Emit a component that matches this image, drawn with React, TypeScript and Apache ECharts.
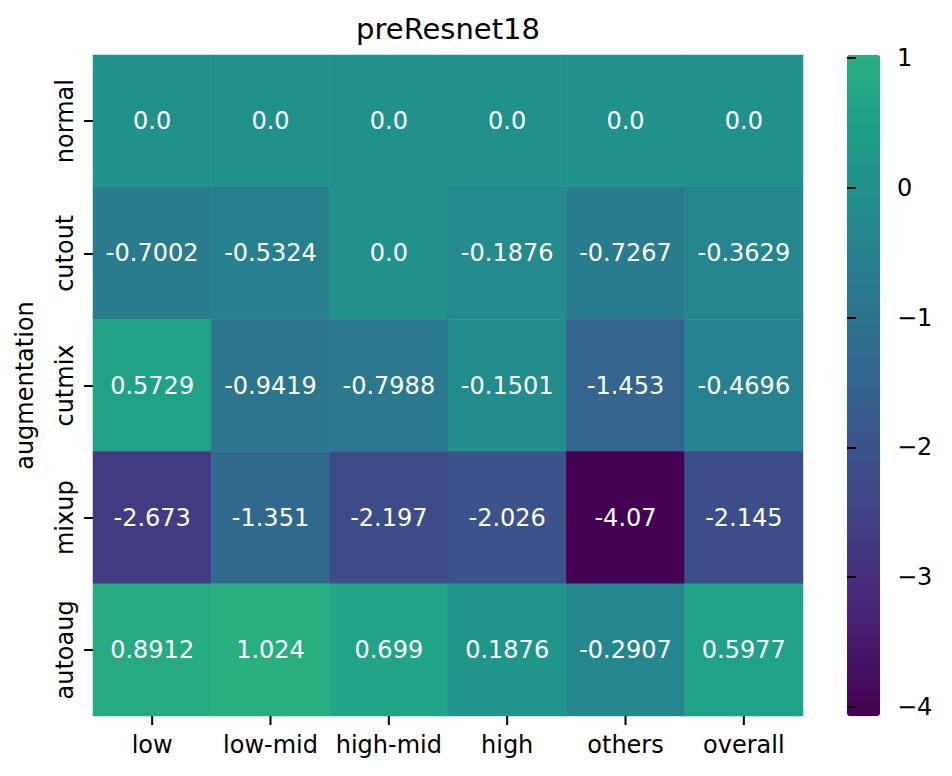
import React, { useEffect, useRef } from "react";
import * as echarts from "echarts";

const chartTitle = "preResnet18";
const yAxisName = "augmentation";
const columns = ["low", "low-mid", "high-mid", "high", "others", "overall"];
const rows = ["normal", "cutout", "cutmix", "mixup", "autoaug"];
const normalVals = [0.0, 0.0, 0.0, 0.0, 0.0, 0.0];
const cutoutVals = [-0.7002, -0.5324, 0.0, -0.1876, -0.7267, -0.3629];
const cutmixVals = [0.5729, -0.9419, -0.7988, -0.1501, -1.453, -0.4696];
const mixupVals = [-2.673, -1.351, -2.197, -2.026, -4.07, -2.145];
const autoaugVals = [0.8912, 1.024, 0.699, 0.1876, -0.2907, 0.5977];
const rowValues = [normalVals, cutoutVals, cutmixVals, mixupVals, autoaugVals];
const colorbarTicks = [-4, -3, -2, -1, 0, 1];
const vmin = -4.07;
const vmax = 1.024;

// viridis reference stops (t, hex)
const viridisStops: [number, string][] = [
  [0.0, "#440154"],
  [0.1, "#482475"],
  [0.111, "#482878"],
  [0.2, "#414487"],
  [0.222, "#3e4a89"],
  [0.25, "#3b528b"],
  [0.3, "#355f8d"],
  [0.333, "#31688e"],
  [0.4, "#2a788e"],
  [0.444, "#26828e"],
  [0.5, "#21918c"],
  [0.556, "#1f9e89"],
  [0.6, "#22a884"],
  [0.667, "#35b779"],
  [0.7, "#44bf70"],
];

function hexToRgb(h: string) {
  return [1, 3, 5].map((i) => parseInt(h.slice(i, i + 2), 16));
}
function viridis(t: number) {
  for (let i = 0; i < viridisStops.length - 1; i++) {
    const [t0, c0] = viridisStops[i];
    const [t1, c1] = viridisStops[i + 1];
    if (t >= t0 && t <= t1) {
      const f = (t - t0) / (t1 - t0);
      const a = hexToRgb(c0);
      const b = hexToRgb(c1);
      const c = a.map((v, k) => Math.round(v + (b[k] - v) * f));
      return `rgb(${c[0]},${c[1]},${c[2]})`;
    }
  }
  return viridisStops[viridisStops.length - 1][1];
}

function fmt(v: number) {
  if (v === 0) return "0.0";
  let s = v.toPrecision(4);
  if (s.indexOf(".") >= 0) s = s.replace(/0+$/, "").replace(/\.$/, ".0");
  return s;
}

const FONT = "DejaVu Sans";

export default function App() {
  const ref = useRef<HTMLDivElement>(null);
  useEffect(() => {
    if (!ref.current) return;
    const chart = echarts.init(ref.current, null, { renderer: "svg" });

    // seaborn center=0 re-centred colormap
    const vrange = Math.max(vmax, -vmin);
    const tMin = (vmin + vrange) / (2 * vrange);
    const tMax = (vmax + vrange) / (2 * vrange);
    const nCol = 48;
    const palette: string[] = [];
    for (let i = 0; i < nCol; i++) palette.push(viridis(tMin + ((tMax - tMin) * i) / (nCol - 1)));

    const data: [number, number, number][] = [];
    rowValues.forEach((vals, r) => vals.forEach((v, c) => data.push([c, r, v])));

    const tickLine = { color: "#000", width: 2 };

    chart.setOption({
      animation: false,
      backgroundColor: "#fff",
      textStyle: { fontFamily: FONT },
      title: {
        text: chartTitle,
        left: 448,
        top: 14,
        textAlign: "center",
        padding: 0,
        textStyle: { fontFamily: FONT, fontSize: 29, fontWeight: "normal", color: "#000" },
      },
      grid: [
        { left: 93, top: 55, width: 710, height: 661 },
        { left: 847, top: 55, width: 33, height: 661 },
      ],
      xAxis: [
        {
          type: "category",
          gridIndex: 0,
          position: "bottom",
          data: columns,
          z: 10,
          axisLine: { show: false },
          axisTick: { show: false },
          axisLabel: { interval: 0, fontFamily: FONT, fontSize: 24, color: "#000", margin: 17 },
          splitLine: { show: false },
        },
        { type: "value", gridIndex: 1, show: false, min: 0, max: 1 },
      ],
      yAxis: [
        {
          type: "category",
          gridIndex: 0,
          data: rows,
          inverse: true,
          z: 10,
          axisLine: { show: false },
          axisTick: { show: true, length: 9, interval: 0, alignWithLabel: true, lineStyle: tickLine },
          axisLabel: { interval: 0, fontFamily: FONT, fontSize: 24, color: "#000", margin: 16, rotate: 90 },
          name: yAxisName,
          nameLocation: "middle",
          nameRotate: 90,
          nameGap: 56,
          nameTextStyle: { fontFamily: FONT, fontSize: 24, color: "#000" },
          splitLine: { show: false },
        },
        {
          type: "value",
          gridIndex: 1,
          position: "right",
          min: vmin,
          max: vmax,
          axisLine: { show: false },
          splitLine: { show: false },
          axisTick: { show: true, length: 9, customValues: colorbarTicks, lineStyle: tickLine },
          axisLabel: {
            customValues: colorbarTicks,
            fontFamily: FONT,
            fontSize: 24,
            color: "#000",
            margin: 17,
            formatter: (v: number) => (v < 0 ? "\u2212" + Math.abs(v) : String(v)),
          },
          z: 10,
        },
      ],
      visualMap: {
        type: "continuous",
        seriesIndex: 0,
        min: vmin,
        max: vmax,
        orient: "vertical",
        left: 847,
        top: 55,
        itemWidth: 33,
        itemHeight: 661,
        padding: 0,
        calculable: false,
        hoverLink: false,
        text: null,
        inRange: { color: palette },
        z: 1,
      },
      series: [
        {
          type: "heatmap",
          xAxisIndex: 0,
          yAxisIndex: 0,
          z: 1,
          data,
          label: {
            show: true,
            color: "#fff",
            fontFamily: FONT,
            fontSize: 24,
            formatter: (p: any) => fmt(p.value[2]),
          },
          emphasis: { disabled: true },
        },
        {
          // x-axis tick marks below each column, placed through the category scale
          type: "custom",
          xAxisIndex: 0,
          yAxisIndex: 0,
          data: columns.map((_, i) => [i, 0]),
          clip: false,
          silent: true,
          z: 20,
          renderItem: (params: any, api: any) => {
            const x = api.coord([api.value(0), 0])[0];
            const bottom = params.coordSys.y + params.coordSys.height;
            return {
              type: "line",
              shape: { x1: x, y1: bottom, x2: x, y2: bottom + 9 },
              style: { stroke: "#000", lineWidth: 2 },
            };
          },
        },
      ],
    });
    return () => chart.dispose();
  }, []);
  return (
    <div
      ref={ref}
      style={{ position: "fixed", left: 0, top: 0, width: 952, height: 776, background: "#fff" }}
    />
  );
}
